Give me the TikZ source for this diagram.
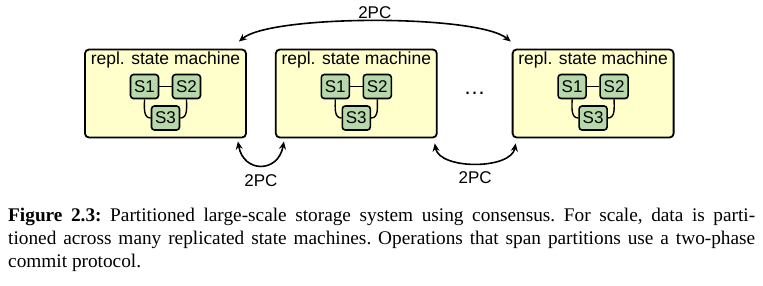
\documentclass[tikz,border=0pt]{standalone}
\usepackage{fontspec}
\setmainfont{Liberation Serif}
\setsansfont{Liberation Sans}
\usetikzlibrary{positioning,arrows.meta,calc}
\definecolor{smyellow}{RGB}{255,255,204}
\definecolor{srvgreen}{RGB}{183,216,170}

\begin{document}
\begin{tikzpicture}[
  x=1pt, y=1pt,
  font=\sffamily,
  machine/.style={draw, rounded corners=4pt, fill=smyellow, line width=1.8pt,
                  minimum width=161pt, minimum height=88pt},
  title/.style={font=\sffamily\fontsize{17.5}{20}\selectfont, inner sep=1pt},
  server/.style={draw, rounded corners=3pt, fill=srvgreen, line width=1.6pt,
                 minimum width=28pt, minimum height=24pt, inner sep=1pt,
                 font=\sffamily\fontsize{17}{19}\selectfont},
  link/.style={line width=1.4pt},
  twopc/.style={{Stealth[length=8pt,width=7pt]}-{Stealth[length=8pt,width=7pt]},
                line width=1.6pt},
  lbl/.style={font=\sffamily\fontsize{17}{19}\selectfont, inner sep=1pt},
  caption/.style={font=\rmfamily\fontsize{19.3}{23}\selectfont, text width=747pt,
                  align=justify, inner sep=0pt},
]
  \useasboundingbox (0,0) rectangle (763,-285);

  \node[machine] (m1) at (165.5,-93.5) {};
  \node[machine, right=28pt of m1] (m2) {};
  \node[machine, right=74pt of m2] (m3) {};

  \foreach \m in {m1,m2,m3} {
    \node[title, below=2pt of \m.north] (\m-t) {repl. state machine};
    \node[server] (\m-s1) at ([xshift=-21pt,yshift=7pt]\m.center) {S1};
    \node[server] (\m-s2) at ([xshift=21pt,yshift=7pt]\m.center) {S2};
    \node[server] (\m-s3) at ([yshift=-24.5pt]\m.center) {S3};
    \draw[link] (\m-s1) -- (\m-s2);
    \draw[link] (\m-s1.south) to[out=-90,in=180] (\m-s3.west);
    \draw[link] (\m-s2.south) to[out=-90,in=0] (\m-s3.east);
  }

  \node[font=\sffamily\fontsize{22}{24}\selectfont] (dots)
    at ($(m2.east)!0.5!(m3.west)$) {\dots};

  \draw[twopc] ([xshift=-8pt,yshift=7pt]m1.north east)
    to[out=40,in=140,looseness=0.4] node[lbl, above=1pt] (pc1) {2PC}
    ([xshift=-1pt,yshift=7pt]m3.north west);
  \draw[twopc] ([xshift=-9pt,yshift=-3pt]m1.south east)
    to[out=-80,in=-100,looseness=1.8] node[lbl, below=8pt] (pc2) {2PC}
    ([xshift=9pt,yshift=-3pt]m2.south west);
  \draw[twopc] ([xshift=-3pt,yshift=-5pt]m2.south east)
    to[out=-80,in=-100,looseness=0.85] node[lbl, below=7pt] (pc3) {2PC}
    ([xshift=4pt,yshift=-5pt]m3.south west);

  \node[caption, anchor=north west] (cap) at (8,-208)
    {\frenchspacing\textbf{Figure 2.3:} Partitioned large-scale storage system
     using consensus. For scale, data is parti-\linebreak tioned across many
     replicated state machines. Operations that span partitions use a
     two-phase\linebreak commit protocol.};
\end{tikzpicture}
\end{document}
